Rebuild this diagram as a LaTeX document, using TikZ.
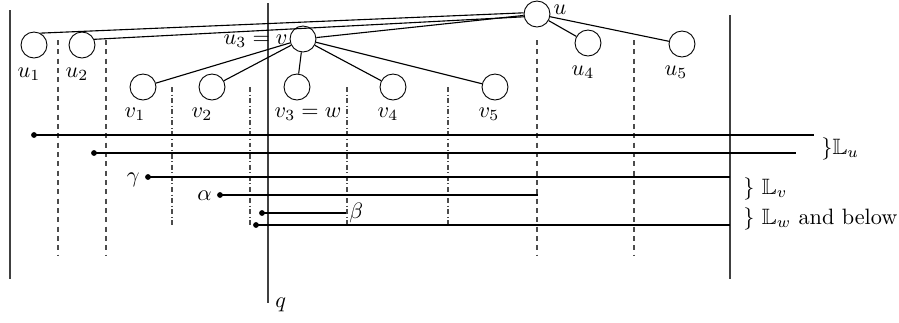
\documentclass[tikz,border=0pt]{standalone}
\usepackage{amsmath,amssymb}
\begin{document}
\begin{tikzpicture}[x=0.45pt,y=-0.45pt,
  vert/.style={black!75,line width=0.6pt},
  tnode/.style={circle,draw,minimum size=11.7pt,inner sep=0pt},
  edge/.style={line width=0.5pt},
  sep/.style={black!70,dash pattern=on 2.2pt off 2pt,line width=0.5pt},
  sepdd/.style={black!70,dash pattern=on 2.2pt off 1.2pt on 0.4pt off 1.2pt,line width=0.5pt},
  hline/.style={line width=0.5pt},
  dot/.style={circle,fill,inner sep=0pt,minimum size=2.6pt},
  lab/.style={inner sep=0pt}]
\useasboundingbox (0,0) rectangle (899,322);
% frame lines
\coordinate (L1) at (10,10); \coordinate (L2) at (10,279);
\coordinate (R1) at (730,15); \coordinate (R2) at (730,279);
\coordinate (Q1) at (268,3); \coordinate (Q2) at (268,303);
\draw[vert] (L1) -- (L2);
\draw[vert] (R1) -- (R2);
\draw[vert] (Q1) -- (Q2);
\node[lab,anchor=west] (ql) at (275,305) {$q$};
% separators
\foreach \x/\n in {58/a,106/b,537/c,634/d}{
  \coordinate (s\n1) at (\x,40); \coordinate (s\n2) at (\x,255);
  \draw[sep] (s\n1) -- (s\n2);}
\foreach \x/\n in {172/e,250/f,347/g,448/h}{
  \coordinate (s\n1) at (\x,87); \coordinate (s\n2) at (\x,225);
  \draw[sepdd] (s\n1) -- (s\n2);}
% tree nodes
\node[tnode,fill=white] (u) at (537,14) {};
\node[tnode] (u1) at (34,45) {};
\node[tnode] (u2) at (82,45) {};
\node[tnode,fill=white] (u3) at (303,39) {};
\node[tnode] (u4) at (588,43) {};
\node[tnode] (u5) at (682,44) {};
\node[tnode] (v1) at (143,87) {};
\node[tnode] (v2) at (212,87) {};
\node[tnode] (v3) at (297,87) {};
\node[tnode] (v4) at (393,87) {};
\node[tnode] (v5) at (495,87) {};
\draw[edge] (u.175) -- (u1.62);
\draw[edge] (u.192) -- (u2.25);
\foreach \t in {u3,u4,u5}{\draw[edge] (u) -- (\t);}
\foreach \t in {v1,v2,v3,v4,v5}{\draw[edge] (u3) -- (\t);}
% labels
\node[lab] (lu) at (560,10) {$u$};
\node[lab] (lu1) at (29,74) {$u_1$};
\node[lab] (lu2) at (77,74) {$u_2$};
\node[lab,anchor=east] (lu3) at (288,41) {$u_3=v$};
\node[lab] (lu4) at (583,72) {$u_4$};
\node[lab] (lu5) at (676,72) {$u_5$};
\node[lab] (lv1) at (135,114) {$v_1$};
\node[lab] (lv2) at (202,114) {$v_2$};
\node[lab] (lv3) at (308,114) {$v_3=w$};
\node[lab] (lv4) at (388,114) {$v_4$};
\node[lab] (lv5) at (489,114) {$v_5$};
% horizontal lines
\node[dot] (d1) at (34,135) {}; \coordinate (e1) at (814,135);
\node[dot] (d2) at (94,153) {}; \coordinate (e2) at (796,153);
\node[dot] (d3) at (148,177) {}; \coordinate (e3) at (730,177);
\node[dot] (d4) at (220,195) {}; \coordinate (e4) at (538,195);
\node[dot] (d5) at (262,213) {}; \coordinate (e5) at (346,213);
\node[dot] (d6) at (256,225) {}; \coordinate (e6) at (730,225);
\foreach \i in {1,...,6}{\draw[hline] (d\i.center) -- (e\i);}
\node[lab,anchor=east] (lg) at (140,180) {$\gamma$};
\node[lab,anchor=east] (la) at (212,196) {$\alpha$};
\node[lab,anchor=west] (lb) at (349,213) {$\beta$};
\node[lab,anchor=west] (Lu) at (821,149) {$\}\mathbb{L}_u$};
\node[lab,anchor=west] (Lv) at (743,189) {$\}\ \mathbb{L}_v$};
\node[lab,anchor=west] (Lw) at (743,219) {$\}\ \mathbb{L}_w$ and below};
\end{tikzpicture}
\end{document}
